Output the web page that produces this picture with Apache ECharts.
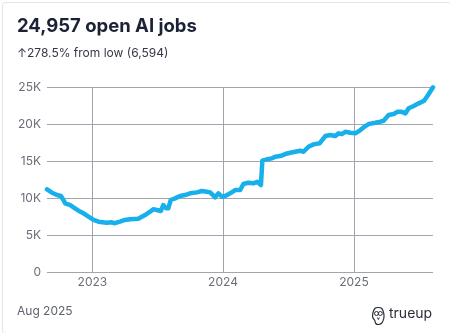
<!DOCTYPE html>
<html><head><meta charset="utf-8">
<script src="https://cdn.jsdelivr.net/npm/echarts@6/dist/echarts.min.js"></script>
<style>html,body{margin:0;padding:0;background:#fff}#c{width:450px;height:333px}</style>
</head><body><div id="c"></div>
<script>
const dates = ["2022-08-27","2022-09-10","2022-09-24","2022-10-05","2022-10-12","2022-10-17","2022-10-31","2022-11-09","2022-11-23","2022-12-07","2022-12-21","2023-01-04","2023-01-18","2023-02-10","2023-02-24","2023-03-05","2023-03-19","2023-04-02","2023-04-16","2023-05-09","2023-05-28","2023-06-11","2023-06-20","2023-06-30","2023-07-11","2023-07-18","2023-07-26","2023-08-01","2023-08-08","2023-08-20","2023-09-03","2023-09-17","2023-10-01","2023-10-20","2023-11-03","2023-11-17","2023-11-26","2023-12-10","2023-12-19","2023-12-29","2024-01-07","2024-01-21","2024-02-04","2024-02-18","2024-02-27","2024-03-12","2024-03-26","2024-04-06","2024-04-16","2024-04-20","2024-05-03","2024-05-17","2024-05-26","2024-06-09","2024-06-23","2024-07-07","2024-07-21","2024-08-04","2024-08-13","2024-08-27","2024-09-10","2024-09-27","2024-10-04","2024-10-13","2024-10-27","2024-11-10","2024-11-19","2024-11-28","2024-12-08","2024-12-22","2025-01-05","2025-01-19","2025-02-02","2025-02-11","2025-02-21","2025-03-02","2025-03-16","2025-03-25","2025-04-08","2025-04-22","2025-05-03","2025-05-13","2025-05-25","2025-06-03","2025-06-17","2025-07-01","2025-07-15","2025-07-24","2025-08-02","2025-08-10"];
const jobs = [11170,10720,10400,10270,9730,9280,9050,8740,8280,7930,7470,7030,6800,6660,6710,6594,6800,7030,7120,7200,7700,8150,8470,8380,8240,9050,8600,8600,9730,9950,10270,10400,10630,10760,10940,10850,10760,10090,10630,10170,10270,10630,11080,11080,11890,12070,11980,12200,11750,15040,15230,15360,15580,15670,15940,16120,16250,16390,16250,16930,17250,17390,17830,18370,18510,18370,18740,18640,18950,18820,18740,19180,19720,19990,20090,20170,20310,20440,21210,21350,21660,21660,21440,22120,22430,22790,23100,23680,24360,24957];
const yTicks = [0,5000,10000,15000,20000,25000];
const yearTicks = ["2023-01-01","2024-01-01","2025-01-01"];
const titleText = "24,957 open AI jobs";
const subText = "\u2191278.5% from low (6,594)";
const footerText = "Aug 2025";
const brandText = "trueup";

const chart = echarts.init(document.getElementById('c'), null, {renderer:'canvas'});
const font = "Inter, 'Noto Sans', sans-serif";
const yearMs = yearTicks.map(d => +new Date(d + "T00:00:00Z"));
const ink = '#2a2d3a';
chart.setOption({
  backgroundColor: '#fff',
  animation: false,
  title: [
    {text: titleText, left: 12, top: 12, textStyle:{fontFamily:font, fontSize:18.5, fontWeight:'bold', color:'#1c2236'}},
    {text: subText, left: 12, top: 42, textStyle:{fontFamily:font, fontSize:12, fontWeight:'normal', color:'#353845'}},
    {text: footerText, left: 12, top: 300, textStyle:{fontFamily:font, fontSize:12, fontWeight:'normal', color:'#5f6270'}},
    {text: brandText, left: 384, top: 302, textStyle:{fontFamily:font, fontSize:14, fontWeight:'normal', color:ink}}
  ],
  grid: {left: 47, right: 17, top: 87, bottom: 61, containLabel:false},
  xAxis: {
    type:'time',
    min: +new Date("2022-08-27T00:00:00Z"),
    max: +new Date("2025-08-10T00:00:00Z"),
    axisLine:{show:false}, axisTick:{show:false},
    splitLine:{show:false},
    axisLabel:{show:false}
  },
  yAxis: {
    type:'value', min:0, max:25000, interval:5000,
    axisLine:{show:false}, axisTick:{show:false},
    splitLine:{show:true, lineStyle:{color:'#a3a5ae', width:1}},
    axisLabel:{fontFamily:font, fontSize:12, color:'#6b6e7a', margin:6,
      formatter: v => v === 0 ? '0' : (v/1000) + 'K'}
  },
  series: [
    {
      type:'line', showSymbol:false, symbol:'none',
      data: dates.map((d,i)=>[d, jobs[i]]),
      lineStyle:{color:'#17b0eb', width:4.5, join:'round', cap:'round'},
      z:5,
      markLine:{
        silent:true, symbol:'none', animation:false,
        lineStyle:{color:'#a3a5ae', width:1, type:'solid'},
        label:{show:true, position:'start', distance:4, fontFamily:font, fontSize:12, color:'#6b6e7a',
          formatter: p => new Date(p.value).getUTCFullYear().toString()},
        data: yearMs.map(t => ({xAxis: t}))
      }
    }
  ],
  graphic: [
    {type:'rect', left:0, top:0, shape:{x:0,y:0,width:449,height:331,r:3}, style:{fill:'none', stroke:'#e2e4ea', lineWidth:1}, silent:true},
    {type:'group', left:370, top:305, children:[
      {type:'polygon', shape:{points:[[1,6],[3,1],[6.5,0],[10,1],[12,6],[12,11],[10,15.5],[6.5,17],[4,16],[3,13],[1,10]], smooth:0.4}, style:{fill:'none', stroke:ink, lineWidth:1.2}},
      {type:'circle', shape:{cx:4.7, cy:6, r:2}, style:{fill:'none', stroke:ink, lineWidth:1}},
      {type:'circle', shape:{cx:8.5, cy:6, r:2}, style:{fill:'none', stroke:ink, lineWidth:1}},
      {type:'polyline', shape:{points:[[5.6,10],[6.6,12],[7.6,10]]}, style:{fill:'none', stroke:ink, lineWidth:1}}
    ]}
  ]
});
</script></body></html>
